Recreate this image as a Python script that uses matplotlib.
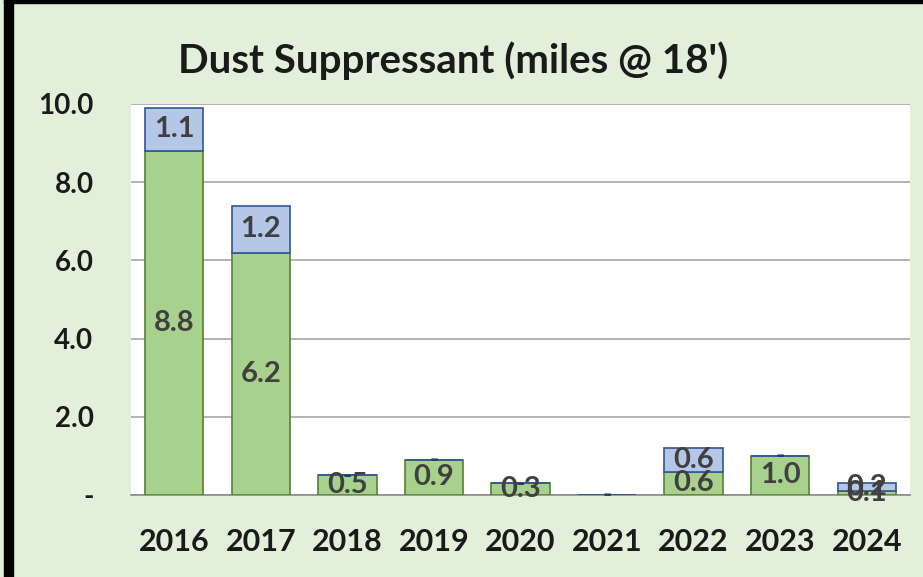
import matplotlib.pyplot as plt
import numpy as np

years = ["2016", "2017", "2018", "2019", "2020", "2021", "2022", "2023", "2024"]
green_vals = [8.8, 6.2, 0.5, 0.9, 0.3, 0.0, 0.6, 1.0, 0.1]
blue_vals = [1.1, 1.2, 0.0, 0.0, 0.0, 0.0, 0.6, 0.0, 0.2]
yticks = [0, 2, 4, 6, 8, 10]
ytick_labels = ["-", "2.0", "4.0", "6.0", "8.0", "10.0"]

bg = "#E2EFDA"
plt.rcParams['font.family'] = ['Lato', 'DejaVu Sans']

fig = plt.figure(figsize=(9.23, 5.77), dpi=100)
fig.patch.set_facecolor(bg)
ax = fig.add_axes([131/923, 1-495/577, (910-131)/923, (495-104)/577])
ax.set_facecolor("white")

x = np.arange(len(years))
w = 0.675
g = ax.bar(x, green_vals, w, color="#A9D18E", edgecolor="#548235", linewidth=1.2, zorder=3)
b = ax.bar(x, blue_vals, w, bottom=green_vals, color="#B4C7E7", edgecolor="#2F5597",
           linewidth=1.2, zorder=3)

def fmt(v):
    return "-" if v == 0 else f"{v:.1f}"

for i in range(len(years)):
    gv, bv = green_vals[i], blue_vals[i]
    if gv > 0:
        ax.text(x[i], gv/2, fmt(gv), ha="center", va="center", fontsize=21,
                fontweight="bold", color="#404040", zorder=5)
    if bv > 0:
        ax.text(x[i], gv + bv/2, fmt(bv), ha="center", va="center", fontsize=21,
                fontweight="bold", color="#404040", zorder=6)
    else:
        # zero values shown as a dash (accounting format)
        ax.text(x[i], gv, "-", ha="center", va="center", fontsize=18,
                fontweight="black", color="#1F3F78", zorder=6)

ax.set_xlim(-0.5, len(years) - 0.5)
ax.set_ylim(0, 10)
ax.set_yticks(yticks)
ax.set_yticklabels(ytick_labels)
ax.set_xticks(x)
ax.set_xticklabels(years)
ax.tick_params(axis="y", length=0, pad=27, labelsize=20)
ax.tick_params(axis="x", length=0, pad=24, labelsize=22)
for lab in ax.get_yticklabels() + ax.get_xticklabels():
    lab.set_fontweight("bold")
    lab.set_color("#1a1a1a")
ax.grid(axis="y", color="#A6A6A6", linewidth=1.2, zorder=0)
for s in ["top", "right", "left"]:
    ax.spines[s].set_visible(False)
ax.spines["bottom"].set_color("#8C8C8C")
ax.spines["bottom"].set_linewidth(1.2)

fig.text(453/923, 1-61/577, "Dust Suppressant (miles @ 18')", ha="center", va="center",
         fontsize=29, fontweight="bold", color="#1a1a1a")

# black frame on left and top
fig.add_artist(plt.Rectangle((4/923, 0), 9/923, 1, transform=fig.transFigure,
                             color="black", zorder=10))
fig.add_artist(plt.Rectangle((4/923, 1-3/577), 1, 3/577, transform=fig.transFigure,
                             color="black", zorder=10))

fig.savefig("out.png", dpi=100, facecolor=bg)
